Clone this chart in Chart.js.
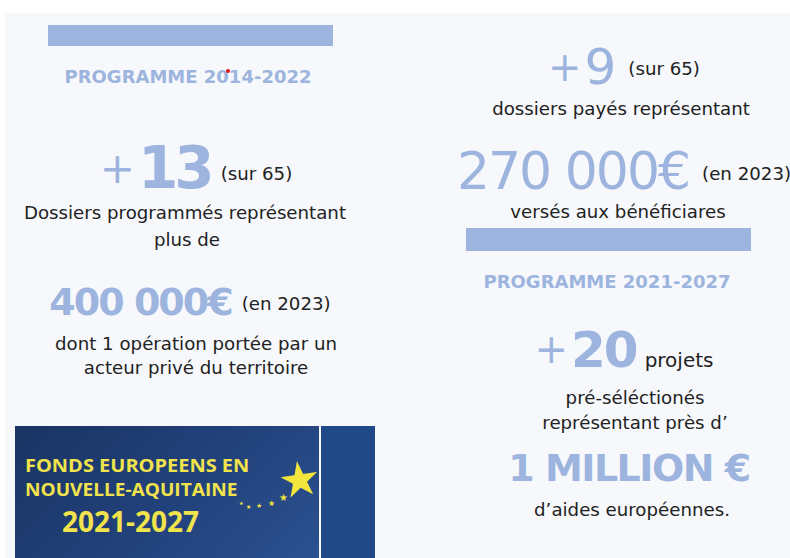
<!DOCTYPE html>
<html lang="fr">
<head>
<meta charset="utf-8">
<title>Fonds européens - bilan</title>
<script src="https://cdn.jsdelivr.net/npm/chart.js@4.4.1/dist/chart.umd.min.js"></script>
<style>
  html, body { margin: 0; padding: 0; background: #fff; }
  body { width: 790px; height: 558px; position: relative; overflow: hidden; font-family: "DejaVu Sans", sans-serif; color: #222; }
  .panel { position: absolute; left: 5px; top: 13px; right: 0; bottom: 0; background: #f6f8fc; }
  .l { position: absolute; white-space: nowrap; transform: translate(-50%, -50%); line-height: 1; }
  .row { display: flex; align-items: baseline; gap: 10px; }
  .title { font-size: 18px; font-weight: bold; color: #9db5de; }
  .txt { font-size: 18.2px; color: #222; }
  .up { position: relative; }
  .big { color: #9db5de; }
  .plus { font-weight: normal; letter-spacing: 3px; position: relative; }
  .barbox { position: absolute; }
  .banner { position: absolute; left: 15px; top: 426px; width: 304px; height: 132px;
            background: linear-gradient(135deg, #1a3463 0%, #22427c 55%, #2b5190 100%); }
  .banner2 { position: absolute; left: 321px; top: 426px; width: 54px; height: 132px; background: #1f4a87; }
  .ban { position: absolute; color: #f1e34b; font-family: "Open Sans", sans-serif; white-space: nowrap; line-height: 1; transform-origin: 0 50%; }
  .star { position: absolute; color: #f4e53c; line-height: 1; }
</style>
</head>
<body>
<div class="panel"></div>

<div class="barbox" style="left:48px; top:25px; width:285px; height:21px;"><canvas id="bar1"></canvas></div>
<div class="barbox" style="left:466px; top:228px; width:285px; height:23px;"><canvas id="bar2"></canvas></div>

<!-- left column -->
<div class="l title" id="prog1" style="left:188px; top:77px;"></div>
<div style="position:absolute; left:226px; top:69px; width:4px; height:4px; border-radius:2px; background:#e0161b;"></div>

<div class="l row" style="left:196px; top:168px;">
  <span class="big" style="font-size:58px; font-weight:bold; letter-spacing:-4px;"><span class="plus" style="font-size:42px; top:-5px;">+</span><span id="n1"></span></span>
  <span class="txt up" id="sur1" style="top:-8px;"></span>
</div>
<div class="l txt" style="left:185px; top:213px;">Dossiers programmés représentant</div>
<div class="l txt" style="left:187px; top:240px;">plus de</div>

<div class="l row" style="left:190px; top:302px;">
  <span class="big" id="a1" style="font-size:38px; font-weight:bold; letter-spacing:-2px;"></span>
  <span class="txt up" id="y1" style="top:-5px;"></span>
</div>
<div class="l txt" style="left:196px; top:344px;">dont 1 opération portée par un</div>
<div class="l txt" style="left:196px; top:368px;">acteur privé du territoire</div>

<!-- right column -->
<div class="l row" style="left:624px; top:67px; gap:14px;">
  <span class="big" style="font-size:50px; letter-spacing:-2px;"><span class="plus" style="font-size:40px; top:-3px;">+</span><span id="n2"></span></span>
  <span class="txt up" id="sur2" style="top:-9px;"></span>
</div>
<div class="l txt" style="left:621px; top:109px;">dossiers payés représentant</div>
<div class="l row" style="left:624px; top:171px; gap:13px;">
  <span class="big" id="a2" style="font-size:52px; letter-spacing:-2px;"></span>
  <span class="txt up" id="y2" style="top:-9px;"></span>
</div>
<div class="l txt" style="left:618px; top:212px;">versés aux bénéficiares</div>

<div class="l title" id="prog2" style="left:607px; top:282px;"></div>
<div class="l row" style="left:624px; top:350px; gap:8px;">
  <span class="big" style="font-size:50px; font-weight:bold; letter-spacing:-2px;"><span class="plus" style="font-size:40px; top:-4px;">+</span><span id="n3"></span></span>
  <span class="txt" style="font-size:20px;">projets</span>
</div>
<div class="l txt" style="left:635px; top:398px;">pré-séléctionés</div>
<div class="l txt" style="left:635px; top:423px;">représentant près d’</div>
<div class="l big" id="a3" style="left:629px; top:468px; font-size:38px; font-weight:bold; letter-spacing:-1.5px;"></div>
<div class="l txt" style="left:632px; top:510px;">d’aides européennes.</div>

<!-- banner -->
<div class="banner"></div>
<div class="banner2"></div>
<div class="ban" style="left:25px; top:456px; font-size:18px; font-weight:bold; transform:scaleX(1.11);">FONDS EUROPEENS EN</div>
<div class="ban" style="left:25px; top:480px; font-size:18px; font-weight:bold; transform:scaleX(1.06);">NOUVELLE-AQUITAINE</div>
<div class="ban" style="left:62px; top:507px; font-size:28px; font-weight:bold;">2021-2027</div>
<div class="star" style="left:278px; top:455px; font-size:48px; transform:rotate(-8deg);">★</div>
<div class="star" style="left:279px; top:493px; font-size:10px;">★</div>
<div class="star" style="left:268px; top:500px; font-size:8px;">★</div>
<div class="star" style="left:256px; top:503px; font-size:7px;">★</div>
<div class="star" style="left:246px; top:504px; font-size:6px;">★</div>
<div class="star" style="left:239px; top:501px; font-size:5px;">★</div>

<script>
// figures
const programmes = ["PROGRAMME 2014-2022", "PROGRAMME 2021-2027"];
const barValues = [1, 1];
const dossierCounts = [13, 9, 20];
const dossierTotal = 65;
const amounts = ["400 000€", "270 000€", "1 MILLION €"];
const amountYears = ["(en 2023)", "(en 2023)"];

(function () {
  function start() {
    if (typeof window.Chart === "undefined") {
      return setTimeout(start, 50);
    }

    document.getElementById("prog1").textContent = programmes[0];
    document.getElementById("prog2").textContent = programmes[1];
    document.getElementById("n1").textContent = dossierCounts[0];
    document.getElementById("n2").textContent = dossierCounts[1];
    document.getElementById("n3").textContent = dossierCounts[2];
    document.getElementById("sur1").textContent = "(sur " + dossierTotal + ")";
    document.getElementById("sur2").textContent = "(sur " + dossierTotal + ")";
    document.getElementById("a1").textContent = amounts[0];
    document.getElementById("a2").textContent = amounts[1];
    document.getElementById("a3").textContent = amounts[2];
    document.getElementById("y1").textContent = amountYears[0];
    document.getElementById("y2").textContent = amountYears[1];

    // the two header bars, one per programme
    ["bar1", "bar2"].forEach(function (id, i) {
      new Chart(document.getElementById(id), {
        type: "bar",
        data: {
          labels: [programmes[i]],
          datasets: [{ data: [barValues[i]], backgroundColor: "#9db5de", borderWidth: 0,
                       barPercentage: 1, categoryPercentage: 1 }]
        },
        options: {
          indexAxis: "y",
          responsive: true,
          maintainAspectRatio: false,
          animation: false,
          layout: { padding: 0 },
          plugins: { legend: { display: false }, tooltip: { enabled: false } },
          scales: {
            x: { display: false, min: 0, max: 1 },
            y: { display: false }
          }
        }
      });
    });
  }

  if (document.readyState === "loading") {
    document.addEventListener("DOMContentLoaded", start);
  } else {
    start();
  }
})();
</script>
</body>
</html>
